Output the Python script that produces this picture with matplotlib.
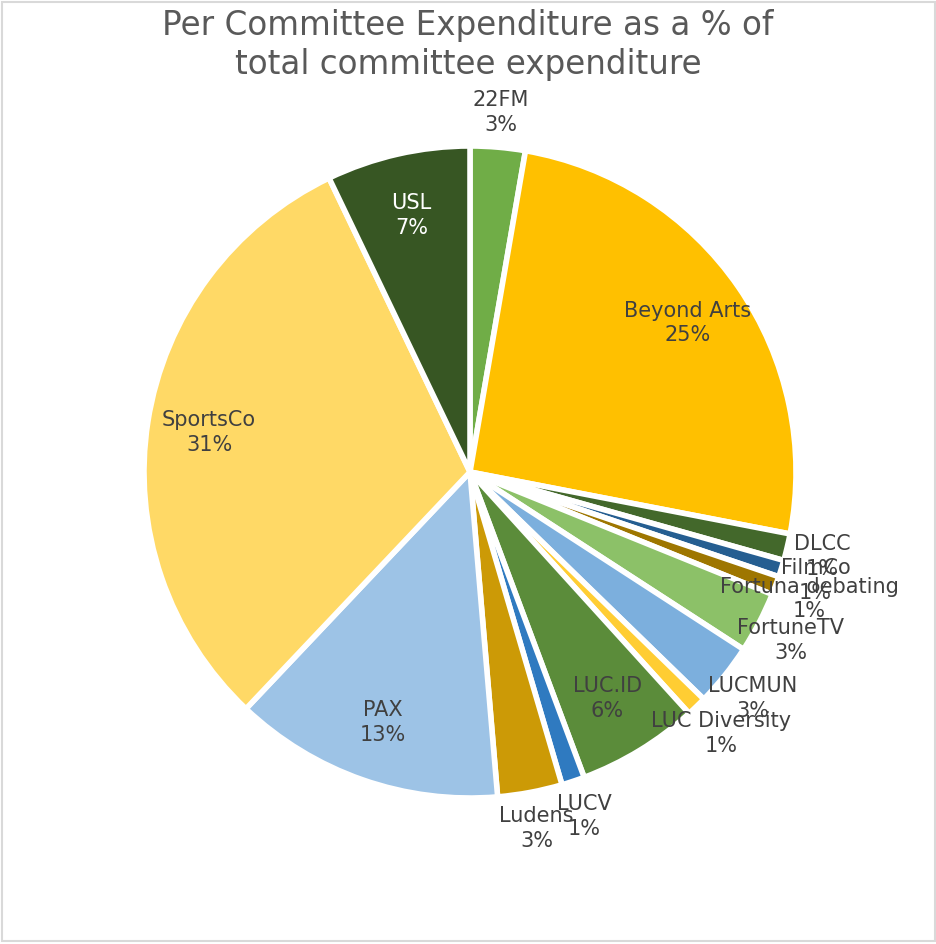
import matplotlib
matplotlib.use("Agg")
import matplotlib.pyplot as plt
import numpy as np
from matplotlib.patches import Rectangle

# ---- data ----
categories = ["22FM", "Beyond Arts", "DLCC", "FilmCo", "Fortuna debating", "FortuneTV",
              "LUCMUN", "LUC Diversity", "LUC.ID", "LUCV", "Ludens", "PAX", "SportsCo", "USL"]
values = [2.72, 25.3, 1.33, 0.83, 0.92, 3.03, 3.11, 1.0, 6.03, 1.14, 3.2, 13.4, 30.8, 7.11]
colors = ["#70AD47", "#FFC000", "#43682B", "#255E91", "#9E7600", "#8CC168",
          "#7CAFDD", "#FFCD33", "#5B8C3A", "#2F7AC0", "#CC9A06", "#9DC3E6", "#FFD966", "#375623"]
inside = [False, True, False, False, False, False, False, False, True, False, False, True, True, True]
label_colors = ["#404040"] * 13 + ["white"]
title = "Per Committee Expenditure as a % of\ntotal committee expenditure"

total = sum(values)
pct_labels = [f"{round(100 * v / total)}%" for v in values]

W, H = 936, 945
fig = plt.figure(figsize=(W / 100, H / 100), dpi=100)
fig.patch.set_facecolor("white")

# chart border
fig.add_artist(Rectangle((2 / W, 3 / H), 933 / W, 939 / H, transform=fig.transFigure,
                         fill=False, edgecolor="#D9D9D9", linewidth=1.5))

cx, cy, R = 470, 945 - 473, 326
half = 340
ax = fig.add_axes([(cx - half) / W, (cy - half) / H, 2 * half / W, 2 * half / H])
lim = half / R
ax.set_aspect("equal")
ax.axis("off")

wedges, _ = ax.pie(values, colors=colors, startangle=90, counterclock=False, radius=1.0,
                   wedgeprops=dict(edgecolor="white", linewidth=4),
                   frame=False)
ax.set_xlim(-lim, lim)
ax.set_ylim(-lim, lim)

for w, name, pct, ins, tc in zip(wedges, categories, pct_labels, inside, label_colors):
    mid = np.deg2rad((w.theta1 + w.theta2) / 2)
    r = 0.81 if ins else 1.11
    ax.text(r * np.cos(mid), r * np.sin(mid), f"{name}\n{pct}", ha="center", va="center",
            fontsize=15, color=tc, linespacing=1.3)

fig.text(0.5, 1 - 45 / H, title, ha="center", va="center", fontsize=23.5,
         color="#595959", linespacing=1.22)

fig.savefig("out.png", dpi=100, facecolor="white")
